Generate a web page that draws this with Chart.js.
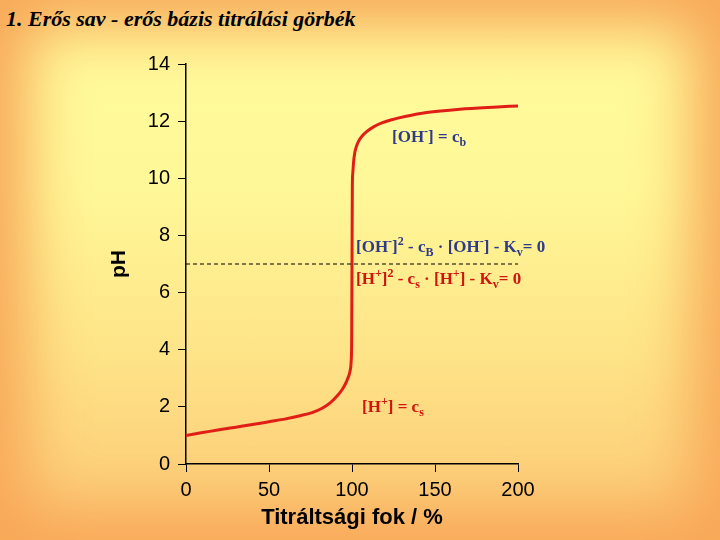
<!DOCTYPE html>
<html>
<head>
<meta charset="utf-8">
<script src="https://cdn.jsdelivr.net/npm/chart.js@4"></script>
<style>
  html, body { margin: 0; padding: 0; }
  body {
    width: 720px; height: 540px; position: relative; overflow: hidden;
    background: linear-gradient(to bottom, #fffb9c 0%, #fff898 35%, #fee488 65%, #fcc674 100%);
    box-shadow: inset 0 0 60px 28px #f8a858;
  }
  #wrap { position: absolute; left: 0; top: 0; width: 720px; height: 540px; }
  .title {
    position: absolute; left: 6px; top: 6px;
    font: italic bold 22px "Liberation Serif", "DejaVu Serif", serif; color: #000;
  }
  .note { position: absolute; font: bold 17px "Liberation Serif", serif; white-space: nowrap; }
  .blue { color: #2e3a8c; }
  .red { color: #d0140e; }
  .note sup, .note sub { font-size: 12px; }
</style>
</head>
<body>
<div class="title">1. Erős sav - erős bázis titrálási görbék</div>
<div id="wrap"><canvas id="c" width="720" height="540"></canvas></div>
<div class="note blue" style="left:392px; top:124px;">[OH<sup>-</sup>] = c<sub>b</sub></div>
<div class="note blue" style="left:356px; top:234px;">[OH<sup>-</sup>]<sup>2</sup> - c<sub>B</sub> · [OH<sup>-</sup>] - K<sub>v</sub>= 0</div>
<div class="note red" style="left:356px; top:266px;">[H<sup>+</sup>]<sup>2</sup> - c<sub>s</sub> · [H<sup>+</sup>] - K<sub>v</sub>= 0</div>
<div class="note red" style="left:362px; top:394px;">[H<sup>+</sup>] = c<sub>s</sub></div>
<script>
// titration degree (%) and pH
const degree = [0, 10, 20, 30, 40, 50, 60, 68, 76, 82, 87, 91, 94, 96, 97.5, 98.8, 99.5, 99.8, 100, 100.2, 100.5, 101, 101.7, 102.7, 104, 106, 109, 113, 118, 124, 132, 145, 165, 185, 200]
const pH = [1.0, 1.1, 1.2, 1.29, 1.38, 1.48, 1.58, 1.68, 1.8, 1.95, 2.15, 2.38, 2.6, 2.8, 3.0, 3.25, 3.6, 4.3, 7, 9.7, 10.2, 10.6, 10.9, 11.12, 11.3, 11.47, 11.64, 11.8, 11.94, 12.05, 12.16, 12.3, 12.42, 12.49, 12.53]
// neutral line at pH 7
const neutralX = [0, 200]
const neutralY = [7, 7]
const xTicks = [0, 50, 100, 150, 200]
const yTicks = [0, 2, 4, 6, 8, 10, 12, 14]

const curve = degree.map((d, i) => ({ x: d, y: pH[i] }))
const neutral = neutralX.map((d, i) => ({ x: d, y: neutralY[i] }))

const ctx = document.getElementById('c').getContext('2d')
new Chart(ctx, {
  type: 'scatter',
  data: {
    datasets: [
      {
        data: neutral,
        showLine: true,
        borderColor: '#000',
        borderWidth: 1,
        borderDash: [4, 3],
        pointRadius: 0,
      },
      {
        data: curve,
        showLine: true,
        borderColor: '#e01e16',
        borderWidth: 3,
        pointRadius: 0,
        cubicInterpolationMode: 'monotone',
      },
    ],
  },
  options: {
    responsive: false,
    animation: false,
    layout: { padding: { left: 105, top: 64, right: 202, bottom: 6 } },
    plugins: { legend: { display: false }, tooltip: { enabled: false } },
    scales: {
      x: {
        type: 'linear',
        min: 0,
        max: 200,
        afterBuildTicks: (s) => { s.ticks = xTicks.map((v) => ({ value: v })) },
        afterFit: (s) => { s.height = 70 },
        grid: { drawOnChartArea: false, color: '#000', tickLength: 8 },
        border: { color: '#000', width: 1.5 },
        ticks: { color: '#000', padding: 6, font: { family: 'Liberation Sans', size: 20 } },
        title: {
          display: true,
          text: 'Titráltsági fok / %',
          color: '#000',
          padding: 3,
          font: { family: 'Liberation Sans', size: 22, weight: 'bold' },
        },
      },
      y: {
        min: 0,
        max: 14,
        afterBuildTicks: (s) => { s.ticks = yTicks.map((v) => ({ value: v })) },
        afterFit: (s) => { s.width = 81 },
        grid: { drawOnChartArea: false, color: '#000', tickLength: 8 },
        border: { color: '#000', width: 1.5 },
        ticks: { color: '#000', padding: 8, font: { family: 'Liberation Sans', size: 20 } },
        title: {
          display: true,
          text: 'pH',
          color: '#000',
          padding: 2,
          font: { family: 'Liberation Sans', size: 21, weight: 'bold' },
        },
      },
    },
  },
})
</script>
</body>
</html>
